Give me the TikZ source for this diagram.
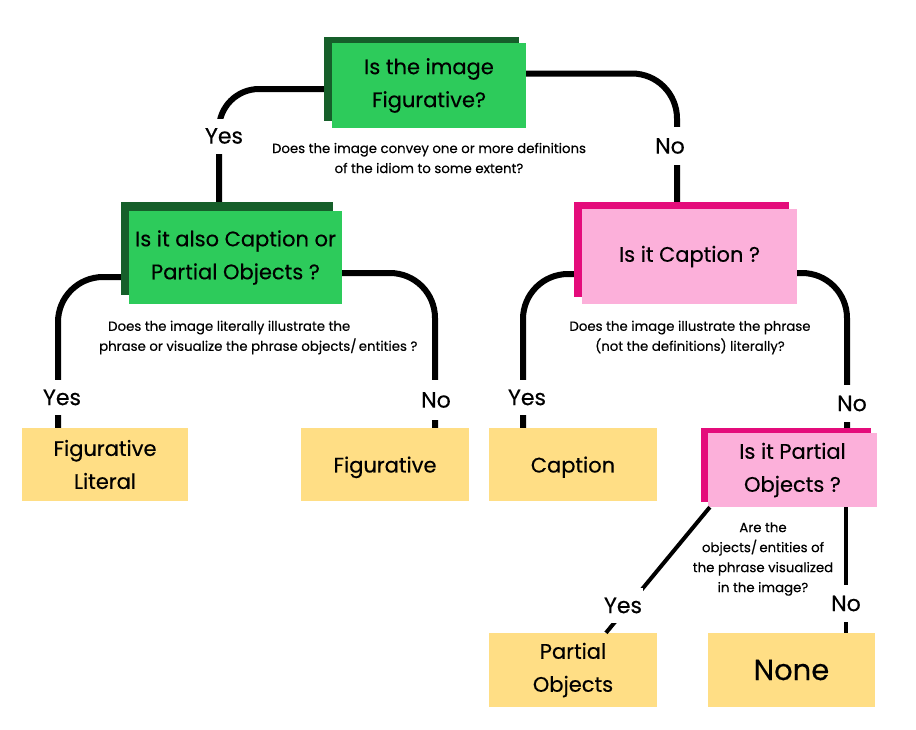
\documentclass[tikz,border=0pt]{standalone}
\usepackage{fontspec}
\setmainfont{Poppins}[FakeBold=0.35]
\definecolor{gmain}{HTML}{2DCB5B}
\definecolor{gdark}{HTML}{165F2A}
\definecolor{pmain}{HTML}{FCB0DA}
\definecolor{pdark}{HTML}{E40C7B}
\definecolor{ymain}{HTML}{FFDE85}
\tikzset{
  box/.style={inner sep=0pt, align=center, font=\fontsize{21}{33}\selectfont},
  gbox/.style={box, fill=gmain},
  gshad/.style={box, fill=gdark},
  pbox/.style={box, fill=pmain},
  pshad/.style={box, fill=pdark},
  ybox/.style={box, fill=ymain},
  conn/.style={line width=6pt, black},
  thin conn/.style={line width=4pt, black},
  lbl/.style={fill=white, inner xsep=1pt, inner ysep=0pt, minimum height=35pt, font=\fontsize{22}{24}\selectfont},
  desc/.style={align=center, inner sep=0pt, font=\fontsize{13.3}{20}\selectfont},
}
\begin{document}
\begin{tikzpicture}[x=1pt,y=-1pt]
\useasboundingbox[fill=white] (0,0) rectangle (916,729);
% shadows
\node[gshad, minimum width=195pt, minimum height=84pt] (topS) at (421.5,79) {};
\node[gshad, minimum width=212pt, minimum height=93pt] (lgS) at (227,248.5) {};
\node[pshad, minimum width=215pt, minimum height=95pt] (capS) at (681.5,249.5) {};
\node[pshad, minimum width=170pt, minimum height=74pt] (parS) at (786,465) {};
% connectors behind the boxes
\draw[conn, rounded corners=40pt] ([yshift=-10pt]topS.west) -| ([xshift=-8pt]lgS.north);
\draw[conn, rounded corners=45pt] ([yshift=5.5pt]topS.east) -| ([xshift=-4.5pt]capS.north);
\draw[conn, rounded corners=45pt] ([yshift=-28.5pt]lgS.west) -| (58,428) coordinate (flT);
\draw[conn, rounded corners=45pt] ([yshift=-24.5pt]capS.west) -| (523,428) coordinate (caT);
% main boxes
\node[gbox, minimum width=194pt, minimum height=85pt] (top) at (429,85.5) {Is the image\\Figurative?};
\node[gbox, minimum width=213pt, minimum height=93pt] (lg) at (235.5,257.5) {Is it also Caption or\\Partial Objects ?};
\node[pbox, minimum width=215pt, minimum height=95pt] (cap) at (689.5,256.5) {Is it Caption ?};
\node[pbox, minimum width=169pt, minimum height=74pt] (par) at (792.5,470) {Is it Partial\\Objects ?};
% leaves
\node[ybox, minimum width=166pt, minimum height=73pt] (fl) at (105,464.5) {Figurative\\Literal};
\node[ybox, minimum width=168pt, minimum height=73pt, text depth=-3pt] (fi) at (385,464.5) {Figurative};
\node[ybox, minimum width=168pt, minimum height=73pt, text depth=-3pt] (ca) at (573,464.5) {Caption};
\node[ybox, minimum width=168pt, minimum height=74pt] (po) at (573,670) {Partial\\Objects};
\node[ybox, minimum width=167pt, minimum height=74pt, font=\fontsize{29}{32}\selectfont] (no) at (791.5,670) {None};
% connectors to leaves and lower boxes
\draw[conn, rounded corners=45pt] ([yshift=-15.5pt]lg.east) -| ([xshift=50pt]fi.north);
\draw[conn, rounded corners=45pt] ([yshift=-16.5pt]cap.east) -| ([xshift=61pt]parS.north);
\draw[thin conn] ([xshift=2pt]par.south west) -- ([xshift=33pt]po.north);
\draw[thin conn] ([xshift=53.5pt]par.south) -- ([xshift=54.5pt]no.north);
% branch labels
\node[lbl] (y1) at (224,136) {Yes};
\node[lbl, minimum height=38pt] (n1) at (670,146) {No};
\node[lbl] (y2) at (62,397.5) {Yes};
\node[lbl, minimum height=40pt] (n2) at (436,400) {No};
\node[lbl] (y3) at (527,397.5) {Yes};
\node[lbl, minimum height=37pt] (n3) at (852,403.5) {No};
\node[lbl] (y4) at (623,605.5) {Yes};
\node[lbl, minimum height=37pt] (n4) at (846,603.5) {No};
% descriptions
\node[desc] (d1) at (429,158) {Does the image convey one or more definitions\\of the idiom to some extent?};
\node[desc, align=left, anchor=west] (d2) at (99,337.5) {\hspace{9pt}Does the image literally illustrate the\\phrase or visualize the phrase objects/\,entities ?};
\node[desc] (d3) at (690,337.5) {Does the image illustrate the phrase\\(not the definitions) literally?};
\node[desc] (d4) at (763,559) {Are the\\objects/\,entities of\\the phrase visualized\\in the image?};
\end{tikzpicture}
\end{document}
